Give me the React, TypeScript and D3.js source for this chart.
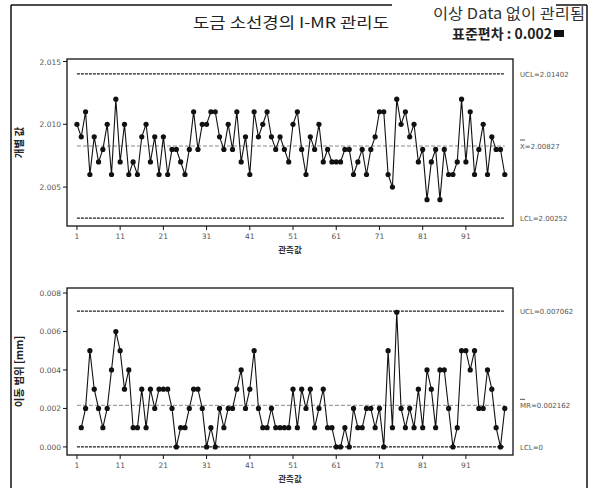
import React from "react";
import * as d3 from "d3";

const individual = [
    2.010, 2.009, 2.011, 2.006, 2.009, 2.007, 2.008, 2.010, 2.006, 2.012,
    2.007, 2.010, 2.006, 2.007, 2.006, 2.009, 2.010, 2.007, 2.009, 2.006,
    2.009, 2.006, 2.008, 2.008, 2.007, 2.006, 2.008, 2.011, 2.008, 2.010,
    2.010, 2.011, 2.011, 2.009, 2.008, 2.010, 2.008, 2.011, 2.007, 2.009,
    2.006, 2.011, 2.009, 2.010, 2.011, 2.009, 2.008, 2.009, 2.008, 2.007,
    2.010, 2.011, 2.008, 2.006, 2.009, 2.008, 2.010, 2.007, 2.008, 2.007,
    2.007, 2.007, 2.008, 2.008, 2.006, 2.007, 2.008, 2.006, 2.008, 2.009,
    2.011, 2.011, 2.006, 2.005, 2.012, 2.010, 2.011, 2.009, 2.010, 2.007,
    2.008, 2.004, 2.007, 2.008, 2.004, 2.008, 2.006, 2.006, 2.007, 2.012,
    2.007, 2.011, 2.006, 2.008, 2.010, 2.006, 2.009, 2.008, 2.008, 2.006
];

// moving ranges, observations 2..100
const movingRange = [
    0.001, 0.002, 0.005, 0.003, 0.002, 0.001, 0.002, 0.004, 0.006,
    0.005, 0.003, 0.004, 0.001, 0.001, 0.003, 0.001, 0.003, 0.002, 0.003,
    0.003, 0.003, 0.002, 0.000, 0.001, 0.001, 0.002, 0.003, 0.003, 0.002,
    0.000, 0.001, 0.000, 0.002, 0.001, 0.002, 0.002, 0.003, 0.004, 0.002,
    0.003, 0.005, 0.002, 0.001, 0.001, 0.002, 0.001, 0.001, 0.001, 0.001,
    0.003, 0.001, 0.003, 0.002, 0.003, 0.001, 0.002, 0.003, 0.001, 0.001,
    0.000, 0.000, 0.001, 0.000, 0.002, 0.001, 0.001, 0.002, 0.002, 0.001,
    0.002, 0.000, 0.005, 0.001, 0.007, 0.002, 0.001, 0.002, 0.001, 0.003,
    0.001, 0.004, 0.003, 0.001, 0.004, 0.004, 0.002, 0.000, 0.001, 0.005,
    0.005, 0.004, 0.005, 0.002, 0.002, 0.004, 0.003, 0.001, 0.000, 0.002
];

const xTicks = [1, 11, 21, 31, 41, 51, 61, 71, 81, 91];
const iTicks = [2.005, 2.010, 2.015];
const mrTicks = [0, 0.002, 0.004, 0.006, 0.008];

// control limits as printed on the chart
const iLimits = { ucl: 2.01402, center: 2.00827, lcl: 2.00252 };
const mrLimits = { ucl: 0.007062, center: 0.002162, lcl: 0 };

const title = "도금 소선경의 I-MR 관리도";
const note1 = "이상 Data 없이 관리됨";
const note2 = "표준편차 : 0.002";
const xTitle = "관측값";
const iTitle = "개별 값";
const mrTitle = "이동 범위 [mm]";

const KR = "'Noto Sans CJK KR', 'Noto Sans', sans-serif";
const NUM = "'DejaVu Sans', sans-serif";

const layout = { width: 590, height: 488, left: 67, right: 513 };

const xScale = d3.scaleLinear().domain([-1.3, 101.9]).range([layout.left, layout.right]);

const Panel = ({ values, startObs, yScale, ticks, tickFmt, limits, labels, top, bottom, yTitle }) => {
    const pts = values.map((v, i) => ({ obs: i + startObs, v }));
    const line = d3.line().x(d => xScale(d.obs)).y(d => yScale(d.v));
    const x0 = xScale(1);
    const x1 = xScale(100);
    const midY = (top + bottom) / 2;

    return (
        <g>
            <rect x={layout.left} y={top} width={layout.right - layout.left} height={bottom - top}
                fill="none" stroke="#111" strokeWidth={1.3} />
            {ticks.map(t => (
                <g key={t}>
                    <line x1={layout.left - 4} x2={layout.left} y1={yScale(t)} y2={yScale(t)} stroke="#111" />
                    <text x={layout.left - 6} y={yScale(t) + 3} textAnchor="end" fontSize={7.5}
                        fontFamily={NUM} fill="#555">{tickFmt(t)}</text>
                </g>
            ))}
            {xTicks.map(t => (
                <g key={t}>
                    <line x1={xScale(t)} x2={xScale(t)} y1={bottom} y2={bottom + 4} stroke="#111" />
                    <text x={xScale(t)} y={bottom + 13} textAnchor="middle" fontSize={7.5}
                        fontFamily={NUM} fill="#555">{t}</text>
                </g>
            ))}
            <text x={(layout.left + layout.right) / 2} y={bottom + 27} textAnchor="middle" fontSize={8.5}
                fontWeight="bold" fontFamily={KR} fill="#333">{xTitle}</text>
            <text transform={`translate(23,${midY}) rotate(-90)`} textAnchor="middle" fontSize={10.5}
                fontWeight="bold" fontFamily={KR} fill="#222">{yTitle}</text>

            {/* control limits */}
            <line x1={x0} x2={x1} y1={yScale(limits.ucl)} y2={yScale(limits.ucl)}
                stroke="#222" strokeWidth={1.3} strokeDasharray="3,1" />
            <line x1={x0} x2={x1} y1={yScale(limits.lcl)} y2={yScale(limits.lcl)}
                stroke="#222" strokeWidth={1.3} strokeDasharray="3,1" />
            <line x1={x0} x2={x1} y1={yScale(limits.center)} y2={yScale(limits.center)}
                stroke="#888" strokeWidth={1} strokeDasharray="4,2" />

            <path d={line(pts)} fill="none" stroke="#111" strokeWidth={1.1} />
            {pts.map(p => (
                <circle key={p.obs} cx={xScale(p.obs)} cy={yScale(p.v)} r={2.6} fill="#111" />
            ))}

            <text x={520} y={yScale(limits.ucl) + 3} fontSize={7} fontFamily={NUM} fill="#555">{labels[0]}</text>
            <line x1={520} x2={525} y1={yScale(limits.center) - 6} y2={yScale(limits.center) - 6} stroke="#555" />
            <text x={520} y={yScale(limits.center) + 3} fontSize={7} fontFamily={NUM} fill="#555">{labels[1]}</text>
            <text x={520} y={yScale(limits.lcl) + 3} fontSize={7} fontFamily={NUM} fill="#555">{labels[2]}</text>
        </g>
    );
};

const App = () => {
    const yI = d3.scaleLinear().domain([2.0019, 2.0152]).range([226, 59]);
    const yMR = d3.scaleLinear().domain([-0.00042, 0.00826]).range([455, 288]);

    return (
        <svg width={layout.width} height={layout.height}
            style={{ position: "absolute", left: 0, top: 0, background: "#fff" }}>
            <rect width={layout.width} height={layout.height} fill="#fff" />
            {/* outer frame of the scanned page */}
            <line x1={11} x2={11} y1={5} y2={488} stroke="#111" strokeWidth={1.5} />
            <line x1={11} x2={392} y1={5} y2={5} stroke="#111" strokeWidth={1.5} />
            <line x1={556} x2={587} y1={5} y2={5} stroke="#111" strokeWidth={1.5} />
            <line x1={587} x2={587} y1={5} y2={488} stroke="#111" strokeWidth={1.5} />

            <text x={193} y={28} fontSize={15} textLength={196} lengthAdjust="spacingAndGlyphs"
                fontFamily={KR} fill="#222">{title}</text>
            <text x={433} y={19} fontSize={15} textLength={152} lengthAdjust="spacingAndGlyphs"
                fontFamily={KR} fill="#333">{note1}</text>
            <text x={452} y={39} fontSize={14} fontWeight="bold" textLength={100} lengthAdjust="spacingAndGlyphs"
                fontFamily={KR} fill="#222">{note2}</text>
            <rect x={554} y={30} width={10} height={7} fill="#111" />

            <Panel values={individual} startObs={1} yScale={yI} ticks={iTicks}
                tickFmt={d3.format(".3f")} limits={iLimits}
                labels={[`UCL=${iLimits.ucl}`, `X=${iLimits.center}`, `LCL=${iLimits.lcl}`]}
                top={59} bottom={226} yTitle={iTitle} />
            <Panel values={movingRange} startObs={2} yScale={yMR} ticks={mrTicks}
                tickFmt={d3.format(".3f")} limits={mrLimits}
                labels={[`UCL=${mrLimits.ucl}`, `MR=${mrLimits.center}`, `LCL=${mrLimits.lcl}`]}
                top={288} bottom={455} yTitle={mrTitle} />
        </svg>
    );
};

export default App;
